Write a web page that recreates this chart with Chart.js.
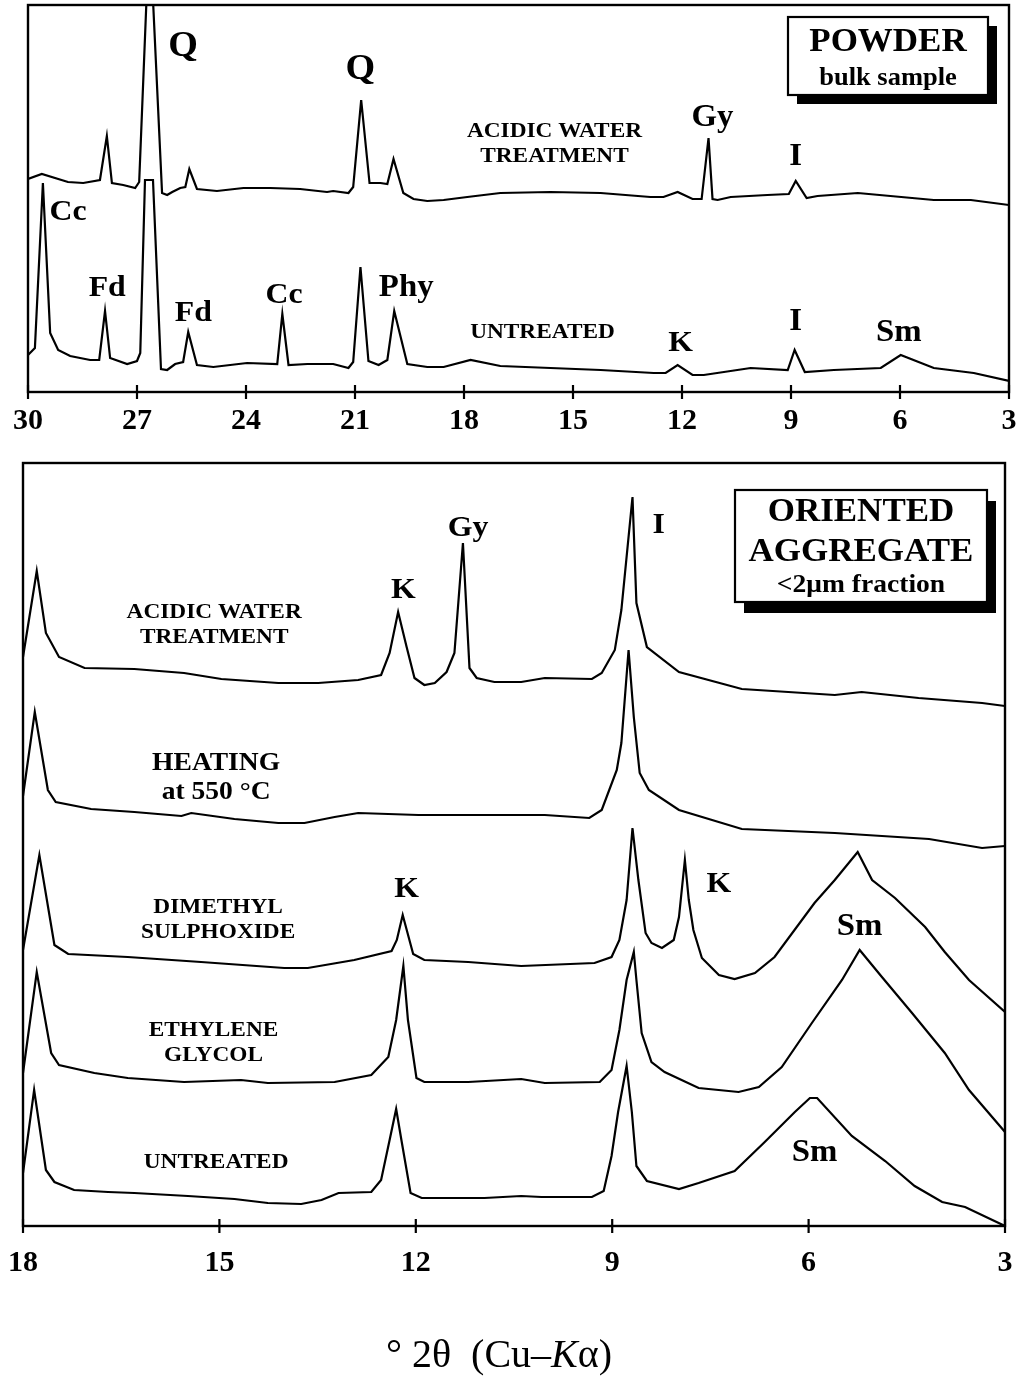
<!DOCTYPE html>
<html><head><meta charset="utf-8">
<script src="https://cdn.jsdelivr.net/npm/chart.js@4.4.1/dist/chart.umd.min.js"></script>
<style>
html,body{margin:0;padding:0;background:#fff;}
#wrap{position:relative;width:1025px;height:1376px;overflow:hidden;background:#fff;}
canvas{position:absolute;left:-20px;}
#c1{top:0;} #c2{top:450px;}
</style></head><body>
<div id="wrap"><canvas id="c1" width="1065" height="450"></canvas><canvas id="c2" width="1065" height="926"></canvas></div>
<script>
// ---------- TOP PANEL: POWDER (bulk sample) ----------
const TOP_TICKS = [30, 27, 24, 21, 18, 15, 12, 9, 6, 3];
const POW_ACID_2T = [30.0, 29.62, 28.90, 28.48, 28.02, 27.83, 27.69, 27.38, 27.05, 26.94, 26.73, 26.57, 26.31, 26.17, 26.03, 25.81, 25.67, 25.56, 25.35, 24.80, 24.07, 23.33, 22.51, 21.77, 21.60, 21.18, 21.05, 20.83, 20.60, 20.30, 20.11, 19.94, 19.67, 19.39, 19.01, 18.56, 17.91, 17.0, 15.62, 14.24, 12.87, 12.51, 12.12, 11.71, 11.46, 11.27, 11.16, 11.02, 10.66, 9.65, 9.06, 8.87, 8.57, 8.27, 7.16, 5.07, 4.05, 3.0];
const POW_ACID_INT = [213, 218, 210, 209, 212, 256, 209, 207, 204, 210, 400, 400, 199, 197, 200, 204, 205, 223, 203, 201, 204, 204, 203, 200, 201, 199, 205, 292, 209, 209, 208, 233, 199, 193, 191, 192, 195, 199, 200, 199, 195, 195, 200, 193, 193, 254, 193, 192, 195, 197, 198, 211, 194, 196, 199, 192, 192, 187];
const POW_UNT_2T = [30.0, 29.81, 29.59, 29.39, 29.17, 28.84, 28.29, 28.04, 27.88, 27.74, 27.27, 27.0, 26.91, 26.78, 26.56, 26.34, 26.17, 25.95, 25.73, 25.59, 25.35, 24.90, 23.97, 23.14, 23.0, 22.83, 22.31, 21.60, 21.18, 21.05, 20.85, 20.63, 20.35, 20.11, 19.92, 19.56, 19.01, 18.56, 17.82, 17.0, 15.62, 14.24, 12.78, 12.45, 12.12, 11.71, 11.40, 10.11, 9.09, 8.90, 8.62, 7.82, 6.53, 5.98, 5.07, 3.97, 3.0];
const POW_UNT_INT = [37, 44, 209, 59, 42, 36, 32, 32, 81, 34, 28, 31, 39, 212, 212, 23, 22, 28, 30, 60, 27, 25, 29, 28, 78, 27, 28, 28, 24, 30, 125, 31, 27, 32, 81, 28, 25, 25, 32, 26, 24, 22, 19, 19, 27, 17, 17, 24, 22, 42, 20, 22, 24, 37, 24, 19, 11];

// ---------- BOTTOM PANEL: ORIENTED AGGREGATE (<2 um fraction) ----------
const BOT_TICKS = [18, 15, 12, 9, 6, 3];
const OA_ACID_2T = [18.0, 17.79, 17.65, 17.45, 17.06, 16.30, 15.54, 14.97, 14.10, 13.49, 12.88, 12.53, 12.40, 12.27, 12.14, 12.02, 11.87, 11.71, 11.53, 11.41, 11.28, 11.18, 11.07, 10.80, 10.39, 10.03, 9.31, 9.16, 8.96, 8.86, 8.69, 8.63, 8.47, 7.98, 7.02, 5.60, 5.19, 4.32, 3.35, 3.0];
const OA_ACID_INT = [569, 655, 593, 569, 558, 557, 553, 547, 543, 543, 546, 551, 573, 614, 579, 548, 541, 543, 554, 573, 683, 558, 548, 544, 544, 548, 547, 553, 576, 616, 729, 623, 579, 554, 537, 531, 534, 528, 523, 520];
const OA_HEAT_2T = [18.0, 17.82, 17.62, 17.50, 16.96, 16.30, 15.58, 15.43, 14.77, 14.10, 13.70, 13.24, 12.88, 11.96, 11.20, 10.39, 10.03, 9.35, 9.16, 8.93, 8.86, 8.75, 8.67, 8.58, 8.44, 7.98, 7.02, 5.60, 4.16, 3.35, 3.0];
const OA_HEAT_INT = [430, 514, 436, 424, 417, 414, 410, 413, 407, 403, 403, 409, 413, 411, 411, 411, 411, 408, 416, 456, 483, 576, 509, 453, 436, 416, 397, 393, 387, 378, 380];
const OA_DMSO_2T = [18.0, 17.75, 17.52, 17.31, 16.40, 15.28, 14.01, 13.65, 12.94, 12.37, 12.29, 12.20, 12.04, 11.87, 11.20, 10.39, 9.27, 9.01, 8.89, 8.78, 8.69, 8.60, 8.49, 8.40, 8.24, 8.06, 7.98, 7.89, 7.83, 7.76, 7.63, 7.37, 7.13, 6.82, 6.52, 5.91, 5.60, 5.25, 5.03, 4.68, 4.22, 3.92, 3.55, 3.0];
const OA_DMSO_INT = [276, 371, 281, 272, 269, 264, 258, 258, 266, 275, 286, 311, 272, 266, 264, 260, 263, 269, 286, 326, 398, 346, 293, 283, 278, 286, 309, 366, 326, 296, 268, 251, 247, 253, 269, 323, 346, 374, 346, 328, 299, 274, 246, 214];
const OA_EG_2T = [18.0, 17.79, 17.57, 17.45, 16.91, 16.40, 15.54, 14.67, 14.26, 13.24, 12.68, 12.42, 12.30, 12.19, 12.12, 11.99, 11.87, 11.20, 10.39, 10.03, 9.19, 9.01, 8.89, 8.78, 8.67, 8.63, 8.55, 8.40, 8.20, 7.68, 7.07, 6.76, 6.41, 5.95, 5.49, 5.22, 4.88, 4.42, 3.92, 3.55, 3.0];
const OA_EG_INT = [153, 254, 173, 161, 153, 148, 144, 146, 143, 144, 151, 169, 206, 260, 206, 148, 144, 144, 147, 143, 144, 156, 196, 246, 274, 246, 193, 164, 154, 138, 134, 139, 159, 203, 246, 276, 249, 213, 173, 136, 94];
const OA_UNT_2T = [18.0, 17.83, 17.65, 17.52, 17.22, 16.70, 16.30, 15.48, 14.77, 14.26, 13.75, 13.44, 13.18, 12.68, 12.53, 12.40, 12.30, 12.22, 12.08, 11.91, 10.95, 10.39, 10.08, 9.31, 9.13, 9.01, 8.91, 8.78, 8.70, 8.63, 8.47, 7.98, 7.68, 7.13, 6.67, 6.21, 5.98, 5.87, 5.34, 4.83, 4.38, 3.96, 3.61, 3.0];
const OA_UNT_INT = [53, 136, 56, 44, 36, 34, 33, 30, 27, 23, 22, 26, 33, 34, 46, 86, 117, 86, 33, 28, 28, 30, 29, 29, 35, 70, 114, 160, 114, 60, 45, 37, 43, 55, 84, 114, 128, 128, 90, 65, 40, 24, 19, 0];

// ---------- annotations (text, anchored in data coordinates) ----------
const TOP_NOTES = [
  {t:'Q', x:25.73, y:345, s:36}, {t:'Q', x:20.85, y:322, s:36},
  {t:'Cc', x:28.90, y:180, s:30}, {t:'Fd', x:27.82, y:104, s:30},
  {t:'Fd', x:25.45, y:79, s:30}, {t:'Cc', x:22.95, y:97, s:30},
  {t:'Phy', x:19.59, y:104, s:31},
  {t:'ACIDIC WATER', x:15.51, y:261, s:22}, {t:'TREATMENT', x:15.51, y:236, s:22},
  {t:'UNTREATED', x:15.84, y:60, s:22},
  {t:'Gy', x:11.16, y:274, s:31}, {t:'I', x:8.87, y:235, s:31},
  {t:'K', x:12.04, y:49, s:30}, {t:'I', x:8.87, y:70, s:31}, {t:'Sm', x:6.03, y:59, s:31}
];
const BOT_NOTES = [
  {t:'ACIDIC WATER', x:15.08, y:614, s:22}, {t:'TREATMENT', x:15.08, y:589, s:22},
  {t:'K', x:12.19, y:636, s:30}, {t:'Gy', x:11.20, y:698, s:30}, {t:'I', x:8.29, y:701, s:30},
  {t:'HEATING', x:15.05, y:463, s:26}, {t:'at 550 °C', x:15.05, y:434, s:26},
  {t:'DIMETHYL', x:15.02, y:319, s:22}, {t:'SULPHOXIDE', x:15.02, y:294, s:22},
  {t:'K', x:12.14, y:337, s:30}, {t:'K', x:7.37, y:342, s:30}, {t:'Sm', x:5.22, y:299, s:31},
  {t:'ETHYLENE', x:15.09, y:196, s:22}, {t:'GLYCOL', x:15.09, y:171, s:22},
  {t:'UNTREATED', x:15.05, y:64, s:22}, {t:'Sm', x:5.91, y:73, s:31}
];

const SERIF = '"Liberation Serif", "Times New Roman", serif';
const SX = 1.06;
const OFF = 20; // canvas is shifted 20px left of the page

function pts(xs, ys) { return xs.map((x, i) => ({x: x, y: ys[i]})); }
function ds(xs, ys) {
  return {data: pts(xs, ys), borderColor: '#000', borderWidth: 2.2, pointRadius: 0,
          tension: 0, fill: false, borderJoinStyle: 'miter', borderCapStyle: 'butt'};
}
function txt(ctx, t, x, y, size, weight, style) {
  ctx.save();
  ctx.font = (style || 'normal') + ' ' + (weight || 'bold') + ' ' + size + 'px ' + SERIF;
  ctx.textAlign = 'center'; ctx.textBaseline = 'middle'; ctx.fillStyle = '#000';
  ctx.translate(x, y); ctx.scale(SX, 1);
  ctx.fillText(t, 0, 0);
  ctx.restore();
}

const deco = {
  id: 'deco',
  afterDatasetsDraw(chart, args, o) {
    const {ctx, chartArea: a, scales: {x, y}} = chart;
    ctx.save();
    ctx.strokeStyle = '#000'; ctx.lineWidth = 2.4;
    ctx.strokeRect(a.left, a.top, a.right - a.left, a.bottom - a.top);
    ctx.lineWidth = 2.2;
    x.ticks.forEach(t => {
      const px = x.getPixelForValue(t.value);
      ctx.beginPath(); ctx.moveTo(px, a.bottom - 7); ctx.lineTo(px, a.bottom + 7); ctx.stroke();
    });
    o.notes.forEach(n => txt(ctx, n.t, x.getPixelForValue(n.x), y.getPixelForValue(n.y), n.s));
    // shadowed box (page coordinates, shifted by canvas offset)
    const b = o.box, bx = b.x + OFF;
    ctx.fillStyle = '#000';
    ctx.fillRect(bx + b.dx, b.y + b.dy, b.w, b.h);
    ctx.fillStyle = '#fff';
    ctx.fillRect(bx, b.y, b.w, b.h);
    ctx.lineWidth = 2.2; ctx.strokeRect(bx, b.y, b.w, b.h);
    b.lines.forEach(l => txt(ctx, l.t, bx + b.w / 2, b.y + l.y, l.s));
    if (o.title) {
      const parts = o.title.parts;
      const sz = o.title.size;
      let widths = parts.map(p => { ctx.font = p[1] + ' normal ' + sz + 'px ' + SERIF; return ctx.measureText(p[0]).width; });
      const total = widths.reduce((s, w) => s + w, 0);
      let cx = o.title.cx + OFF - total / 2;
      ctx.fillStyle = '#000'; ctx.textAlign = 'left'; ctx.textBaseline = 'alphabetic';
      parts.forEach((p, i) => { ctx.font = p[1] + ' normal ' + sz + 'px ' + SERIF; ctx.fillText(p[0], cx, o.title.y); cx += widths[i]; });
    }
    ctx.restore();
  }
};

function makeChart(id, cfg) {
  return new Chart(document.getElementById(id), {
    type: 'line',
    data: {datasets: cfg.datasets},
    plugins: [deco],
    options: {
      animation: false, responsive: false, maintainAspectRatio: false,
      layout: {padding: cfg.padding},
      plugins: {legend: {display: false}, tooltip: {enabled: false}, deco: cfg.deco},
      scales: {
        x: {
          type: 'linear', reverse: true, min: cfg.min, max: cfg.max,
          afterBuildTicks: s => { s.ticks = cfg.ticks.map(v => ({value: v})); },
          afterFit: s => { s.height = cfg.xh; },
          ticks: {color: '#000', padding: cfg.tp, maxRotation: 0, autoSkip: false,
                  font: {family: SERIF, size: 30, weight: 'bold'}},
          grid: {display: true, drawOnChartArea: false, drawTicks: false, color: 'rgba(0,0,0,0)'},
          border: {display: false}
        },
        y: {display: false, min: 0, max: cfg.ymax}
      }
    }
  });
}

// page x: top plot 28..1009, bottom plot 23..1005 (canvas shifted by OFF)
makeChart('c1', {
  datasets: [ds(POW_ACID_2T, POW_ACID_INT), ds(POW_UNT_2T, POW_UNT_INT)],
  padding: {left: 28 + OFF, right: 1065 - OFF - 1009, top: 5, bottom: 0},
  min: 3, max: 30, ticks: TOP_TICKS, xh: 58, tp: 11, ymax: 387,
  deco: {notes: TOP_NOTES,
         box: {x: 788, y: 17, w: 200, h: 78, dx: 9, dy: 9,
               lines: [{t: 'POWDER', y: 25, s: 33}, {t: 'bulk sample', y: 62, s: 25}]}}
});

makeChart('c2', {
  datasets: [ds(OA_ACID_2T, OA_ACID_INT), ds(OA_HEAT_2T, OA_HEAT_INT), ds(OA_DMSO_2T, OA_DMSO_INT),
             ds(OA_EG_2T, OA_EG_INT), ds(OA_UNT_2T, OA_UNT_INT)],
  padding: {left: 23 + OFF, right: 1065 - OFF - 1005, top: 13, bottom: 0},
  min: 3, max: 18, ticks: BOT_TICKS, xh: 150, tp: 19, ymax: 763,
  deco: {notes: BOT_NOTES,
         box: {x: 735, y: 40, w: 252, h: 112, dx: 9, dy: 11,
               lines: [{t: 'ORIENTED', y: 22, s: 33}, {t: 'AGGREGATE', y: 62, s: 33}, {t: '<2\u03bcm fraction', y: 95, s: 26}]},
         title: {parts: [['\u00b0 2\u03b8  (Cu\u2013', 'normal'], ['K', 'italic'], ['\u03b1)', 'normal']], size: 40, cx: 499, y: 917}}
});
</script>
</body></html>
